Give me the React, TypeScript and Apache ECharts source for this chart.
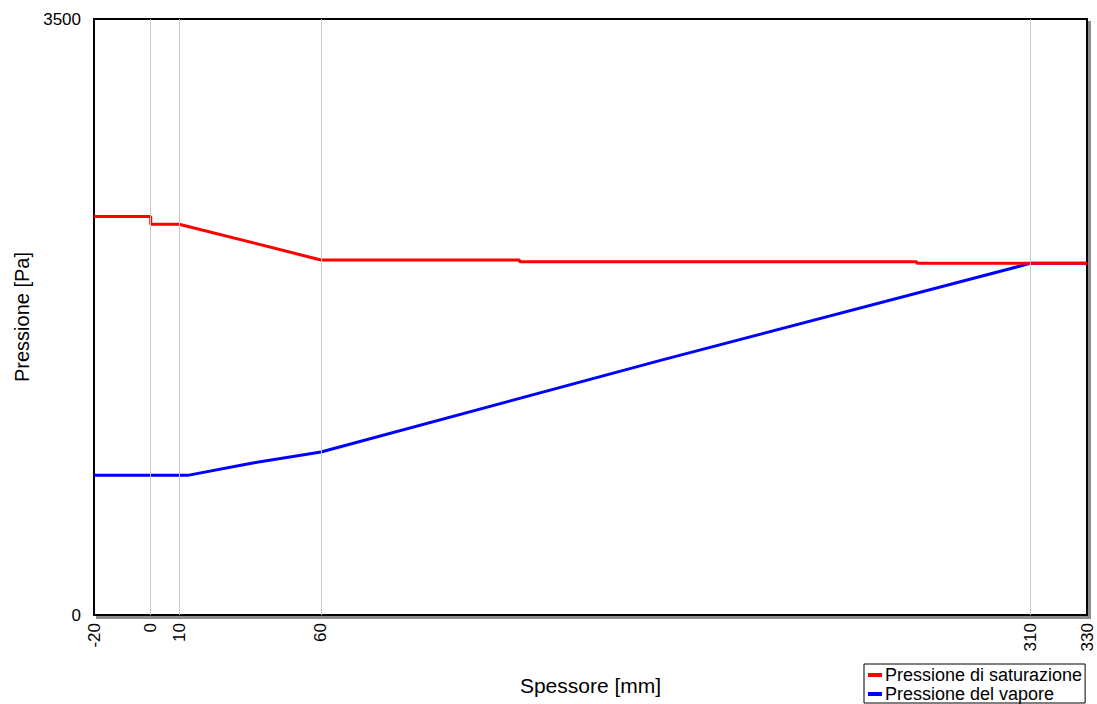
import React, { useEffect, useRef } from "react";
import * as echarts from "echarts";

const seriesNames = ["Pressione di saturazione", "Pressione del vapore"];
const saturationData: [number, number][] = [
  [-20, 2340], [0, 2340], [0, 2295], [10, 2295], [60, 2085],
  [130, 2085], [130, 2075], [270, 2075], [270, 2065], [330, 2065],
];
const vaporData: [number, number][] = [
  [-20, 820], [13, 820], [35, 890], [60, 957], [180, 1497], [310, 2065], [330, 2065],
];
const xLabelValues = [-20, 0, 10, 60, 310, 330];
const layerBoundaries = [0, 10, 60, 310];
const xMin = -20;
const xMax = 330;
const yMin = 0;
const yMax = 3500;

const FONT = "Liberation Sans, Arial, sans-serif";

export default function App() {
  const ref = useRef<HTMLDivElement>(null);
  useEffect(() => {
    if (!ref.current) return;
    const chart = echarts.init(ref.current, null, { renderer: "svg" });
    chart.setOption({
      animation: false,
      backgroundColor: "#ffffff",
      textStyle: { fontFamily: FONT },
      grid: {
        left: 94,
        right: 10,
        top: 19,
        bottom: 89,
        show: true,
        backgroundColor: "#ffffff",
        borderColor: "#000000",
        borderWidth: 2,
        shadowColor: "rgba(0,0,0,0.45)",
        shadowOffsetX: 3,
        shadowOffsetY: 3,
        shadowBlur: 0,
      },
      legend: {
        orient: "vertical",
        left: 864,
        top: 664,
        data: seriesNames,
        icon: "rect",
        itemWidth: 14,
        itemHeight: 4,
        itemGap: 1,
        padding: [2, 3, 0, 4],
        borderColor: "#000000",
        borderWidth: 1,
        backgroundColor: "#ffffff",
        textStyle: { fontFamily: FONT, fontSize: 18, color: "#000", padding: [0, 0, 0, -2], lineHeight: 18 },
      },
      xAxis: {
        type: "value",
        min: xMin,
        max: xMax,
        name: "Spessore [mm]",
        nameLocation: "middle",
        nameGap: 60,
        nameTextStyle: { fontFamily: FONT, fontSize: 21, color: "#000" },
        axisLine: { show: true, lineStyle: { color: "#000", width: 2 } },
        axisTick: {
          show: true,
          inside: true,
          length: 7,
          customValues: layerBoundaries,
          lineStyle: { color: "#444" },
        },
        axisLabel: {
          customValues: xLabelValues,
          rotate: 90,
          margin: 8,
          fontFamily: FONT,
          fontSize: 17,
          color: "#000",
          formatter: (v: number) => String(v),
        },
        splitLine: { show: false },
      },
      yAxis: {
        type: "value",
        min: yMin,
        max: yMax,
        interval: 3500,
        name: "Pressione [Pa]",
        nameLocation: "middle",
        nameGap: 62,
        nameTextStyle: { fontFamily: FONT, fontSize: 20, color: "#000" },
        axisLine: { show: true, lineStyle: { color: "#000", width: 1 } },
        axisTick: { show: false },
        axisLabel: {
          margin: 13,
          fontFamily: FONT,
          fontSize: 17,
          color: "#000",
          formatter: (v: number) => String(v),
        },
        splitLine: { show: false },
      },
      series: [
        {
          name: "grid-lines",
          type: "line",
          data: [],
          z: 1,
          silent: true,
          markLine: {
            silent: true,
            symbol: ["none", "none"],
            label: { show: false },
            lineStyle: { color: "#c8c8c8", width: 1, type: "solid" },
            data: layerBoundaries.map((v) => ({ xAxis: v })),
          },
        },
        {
          name: seriesNames[1],
          type: "line",
          data: vaporData,
          showSymbol: false,
          z: 3,
          color: "#0000ff",
          lineStyle: { color: "#0000ff", width: 3 },
        },
        {
          name: seriesNames[0],
          type: "line",
          data: saturationData,
          showSymbol: false,
          z: 4,
          color: "#ff0000",
          lineStyle: { color: "#ff0000", width: 3 },
        },
      ],
    });
    return () => chart.dispose();
  }, []);
  return (
    <div
      ref={ref}
      style={{ position: "absolute", left: 0, top: 0, width: 1097, height: 704 }}
    />
  );
}
